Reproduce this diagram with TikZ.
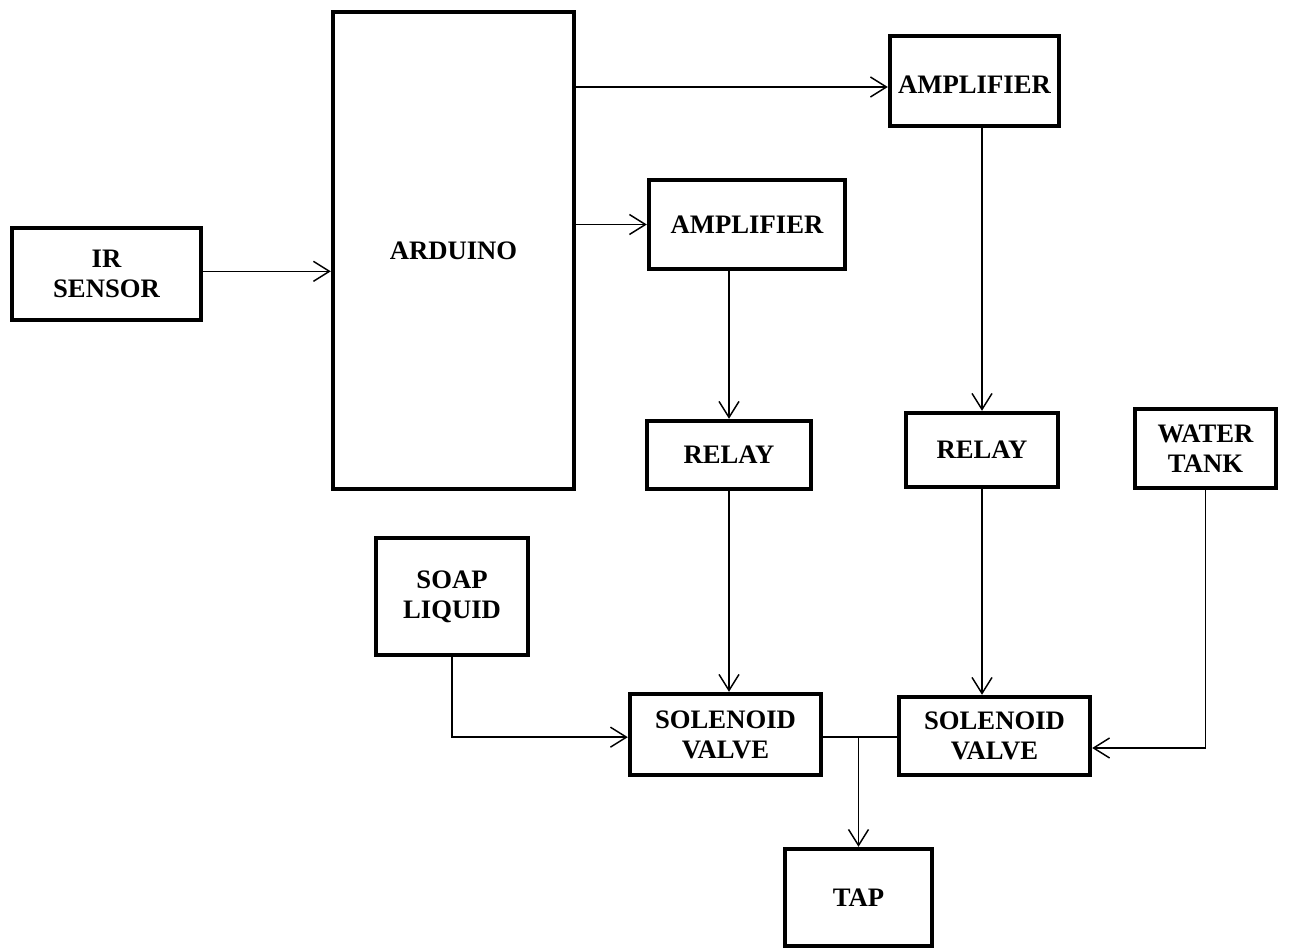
\documentclass[tikz,border=0pt]{standalone}
\usepackage{fontspec}
\setmainfont{Liberation Serif}
\usetikzlibrary{arrows.meta}
\begin{document}
\begin{tikzpicture}[x=0.75pt,y=-0.75pt,
  blk/.style={draw,line width=3.3pt,rectangle,align=center,inner sep=0pt,
    font=\bfseries\fontsize{20}{22.5}\selectfont},
  arr/.style={line width=1.1pt,-{Straight Barb[length=12pt,width=15pt]}},
  ln/.style={line width=1.1pt}]
\useasboundingbox (0,0) rectangle (1289,952);
\node[blk,minimum width=189*0.75pt,minimum height=92*0.75pt] (ir) at (106.5,274) {IR\\SENSOR};
\node[blk,minimum width=241*0.75pt,minimum height=477*0.75pt] (ard) at (453.5,250.5) {ARDUINO};
\node[blk,minimum width=169*0.75pt,minimum height=90*0.75pt,text height=19pt,text depth=0pt] (amp1) at (974.5,81) {AMPLIFIER};
\node[blk,minimum width=196*0.75pt,minimum height=89*0.75pt] (amp2) at (747,224.5) {AMPLIFIER};
\node[blk,minimum width=164*0.75pt,minimum height=68*0.75pt] (rel1) at (729,455) {RELAY};
\node[blk,minimum width=152*0.75pt,minimum height=74*0.75pt] (rel2) at (982,450) {RELAY};
\node[blk,minimum width=141*0.75pt,minimum height=79*0.75pt] (tank) at (1205.5,448.5) {WATER\\TANK};
\node[blk,minimum width=152*0.75pt,minimum height=117*0.75pt] (soap) at (452,596.5) {SOAP\\LIQUID};
\node[blk,minimum width=191*0.75pt,minimum height=81*0.75pt] (sol1) at (725.5,734.5) {SOLENOID\\VALVE};
\node[blk,minimum width=191*0.75pt,minimum height=78*0.75pt] (sol2) at (994.5,736) {SOLENOID\\VALVE};
\node[blk,minimum width=147*0.75pt,minimum height=97*0.75pt] (tap) at (858.5,897.5) {TAP};
% connectors
\draw[arr] ([yshift=2pt]ir.east) -- ([yshift=2pt]ir.east -| ard.west);
\draw[arr] ([yshift=-4.5pt]amp1.west -| ard.east) -- ([yshift=-4.5pt]amp1.west);
\draw[arr] (amp2.west -| ard.east) -- (amp2.west);
\draw[arr] (rel1.north |- amp2.south) -- (rel1.north);
\draw[arr] (rel2.north |- amp1.south) -- (rel2.north);
\draw[arr] (rel1.south) -- (rel1.south |- sol1.north);
\draw[arr] (rel2.south) -- (rel2.south |- sol2.north);
\draw[arr] (soap.south) |- ([yshift=-2pt]sol1.west);
\draw[arr] (tank.south) |- ([yshift=-9pt]sol2.east);
\coordinate (j) at ([yshift=-2pt]sol1.east -| tap.north);
\draw[ln] ([yshift=-2pt]sol1.east) -- ([yshift=-2pt]sol1.east -| sol2.west);
\draw[arr] (j) -- (tap.north);
\end{tikzpicture}
\end{document}
